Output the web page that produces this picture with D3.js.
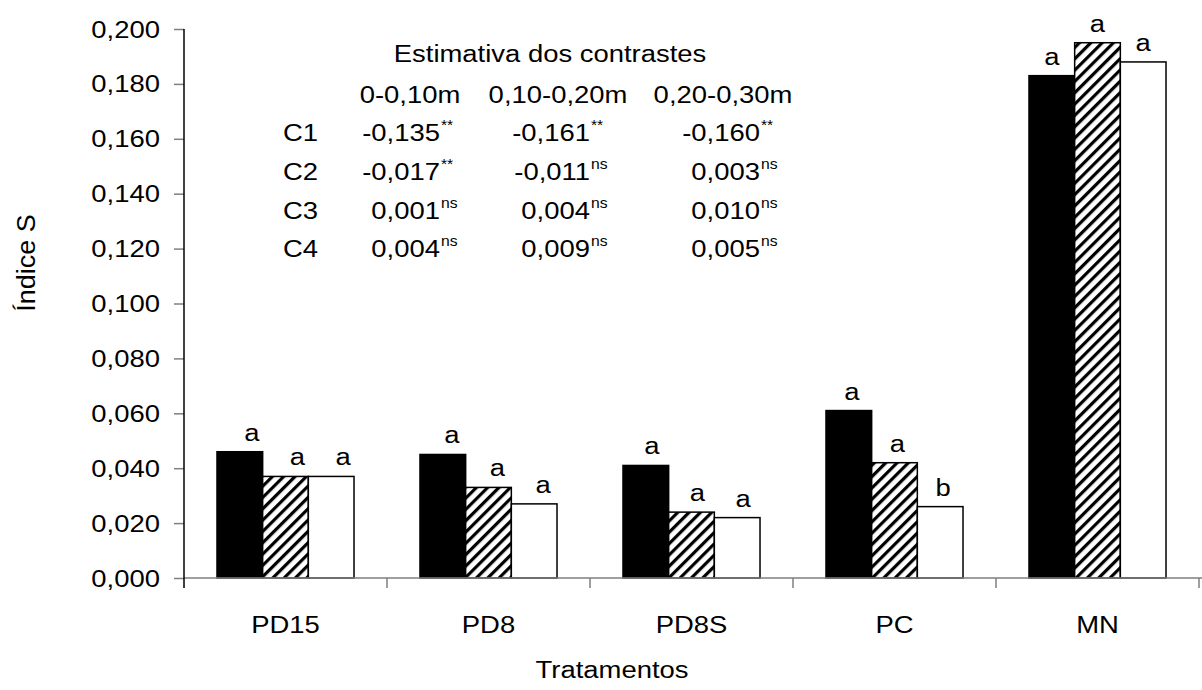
<!DOCTYPE html>
<html><head><meta charset="utf-8">
<script src="https://cdn.jsdelivr.net/npm/d3@7"></script>
<style>
body{margin:0;background:#fff}
text{font-family:"Liberation Sans",Arial,Helvetica,sans-serif;fill:#000}
</style>
</head><body>
<svg id="c" width="1202" height="690"></svg>
<script>
// ---------- data ----------
const categories = ["PD15", "PD8", "PD8S", "PC", "MN"];
const depths = ["0-0,10m", "0,10-0,20m", "0,20-0,30m"];
const depth0 = [0.046, 0.045, 0.041, 0.061, 0.183];   // black
const depth1 = [0.037, 0.033, 0.024, 0.042, 0.195];   // hatched
const depth2 = [0.037, 0.027, 0.022, 0.026, 0.188];   // white
const letters0 = ["a", "a", "a", "a", "a"];
const letters1 = ["a", "a", "a", "a", "a"];
const letters2 = ["a", "a", "a", "b", "a"];
const yTicks = [0, 0.02, 0.04, 0.06, 0.08, 0.10, 0.12, 0.14, 0.16, 0.18, 0.20];
const contrastTitle = "Estimativa dos contrastes";
const contrastRows = ["C1", "C2", "C3", "C4"];
const contrastVal0 = ["-0,135", "-0,017", "0,001", "0,004"];
const contrastVal1 = ["-0,161", "-0,011", "0,004", "0,009"];
const contrastVal2 = ["-0,160", "0,003", "0,010", "0,005"];
const contrastSig0 = ["**", "**", "ns", "ns"];
const contrastSig1 = ["**", "ns", "ns", "ns"];
const contrastSig2 = ["**", "ns", "ns", "ns"];
const xTitle = "Tratamentos";
const yTitle = "Índice S";

// ---------- layout ----------
const W = 1202, H = 690;
const mL = 184, mR = 1199, mT = 29, mB = 578;
const FS = 24.5, SX = 1.12;
const svg = d3.select("#c");

const defs = svg.append("defs");
const pat = defs.append("pattern").attr("id", "hatch")
  .attr("patternUnits", "userSpaceOnUse").attr("width", 8).attr("height", 8)
  .attr("patternTransform", "rotate(45)");
pat.append("rect").attr("width", 8).attr("height", 8).attr("fill", "#fff");
pat.append("rect").attr("x", 0).attr("width", 3.2).attr("height", 8).attr("fill", "#000");

const x = d3.scaleBand().domain(categories).range([mL, mR])
  .paddingInner(0.325).paddingOuter(0.1625);
const xs = d3.scaleBand().domain([0, 1, 2]).range([0, x.bandwidth()]);
const y = d3.scaleLinear().domain([0, 0.2]).range([mB, mT]);
const loc = d3.formatLocale({decimal: ",", thousands: ".", grouping: [3], currency: ["", ""]});
const fmt = loc.format(".3f");

function txt(g, px, py, s, anchor, size, sx) {
  return g.append("text")
    .attr("transform", `translate(${px},${py}) scale(${sx == null ? SX : sx},1)`)
    .attr("text-anchor", anchor || "middle")
    .attr("font-size", size || FS)
    .text(s);
}

// ---------- bars ----------
const series = [
  {vals: depth0, letters: letters0, fill: "#000"},
  {vals: depth1, letters: letters1, fill: "url(#hatch)"},
  {vals: depth2, letters: letters2, fill: "#fff"}
];
const labelShift = d3.scaleLinear().domain([0, categories.length - 1]).range([12, 0]);
const gb = svg.append("g");
series.forEach((s, si) => {
  categories.forEach((c, ci) => {
    const bx = x(c) + xs(si), bw = xs.bandwidth();
    gb.append("rect")
      .attr("x", bx).attr("y", y(s.vals[ci]))
      .attr("width", bw).attr("height", y(0) - y(s.vals[ci]))
      .attr("fill", s.fill).attr("stroke", "#000").attr("stroke-width", 1.5);
    txt(gb, bx + bw / 2 + labelShift(ci), y(s.vals[ci]) - 11, s.letters[ci], "middle");
  });
});

// ---------- axes ----------
const ga = svg.append("g");
const yAxis = d3.axisLeft(y).tickValues(yTicks).tickSize(10).tickFormat(() => "");
const gy = ga.append("g").attr("transform", `translate(${mL},0)`).call(yAxis);
gy.select(".domain").remove();
gy.selectAll(".tick line").attr("stroke", "#7f7f7f").attr("stroke-width", 1.5);
yTicks.forEach(t => txt(ga, 160, y(t) + 8.5, fmt(t), "end"));

// x axis line and boundary ticks
ga.append("line").attr("x1", mL).attr("x2", W).attr("y1", mB).attr("y2", mB)
  .attr("stroke", "#7f7f7f").attr("stroke-width", 1.5);
const bounds = categories.map(c => x(c) - (x.step() - x.bandwidth()) / 2).concat([mR]);
bounds.slice(1).forEach(b => ga.append("line").attr("x1", b).attr("x2", b)
  .attr("y1", mB).attr("y2", mB + 10).attr("stroke", "#7f7f7f").attr("stroke-width", 1.5));
ga.append("line").attr("x1", mL).attr("x2", mL).attr("y1", mT).attr("y2", mB + 10)
  .attr("stroke", "#000").attr("stroke-width", 1.5);

categories.forEach(c => txt(ga, x(c) + x.bandwidth() / 2, 633, c, "middle"));
txt(ga, 612, 678, xTitle, "middle");
ga.append("text").attr("transform", "translate(35,263) rotate(-90) scale(1.1,1.05)")
  .attr("text-anchor", "middle").attr("font-size", FS).text(yTitle);

// ---------- contrasts table ----------
const gt = svg.append("g");
txt(gt, 550, 62, contrastTitle, "middle");
const colHeadX = [410, 558, 723];
depths.forEach((d, i) => txt(gt, colHeadX[i], 103, d, "middle"));
const rowY = [141, 180, 219, 257];
const colValX = [440, 590, 760];
const vals = [contrastVal0, contrastVal1, contrastVal2];
const sigs = [contrastSig0, contrastSig1, contrastSig2];
contrastRows.forEach((r, ri) => {
  txt(gt, 283, rowY[ri], r, "start");
  vals.forEach((v, ci) => {
    txt(gt, colValX[ci], rowY[ri], v[ri], "end");
    txt(gt, colValX[ci] + 1, rowY[ri] - 11, sigs[ci][ri], "start", 14);
  });
});
</script>
</body></html>
